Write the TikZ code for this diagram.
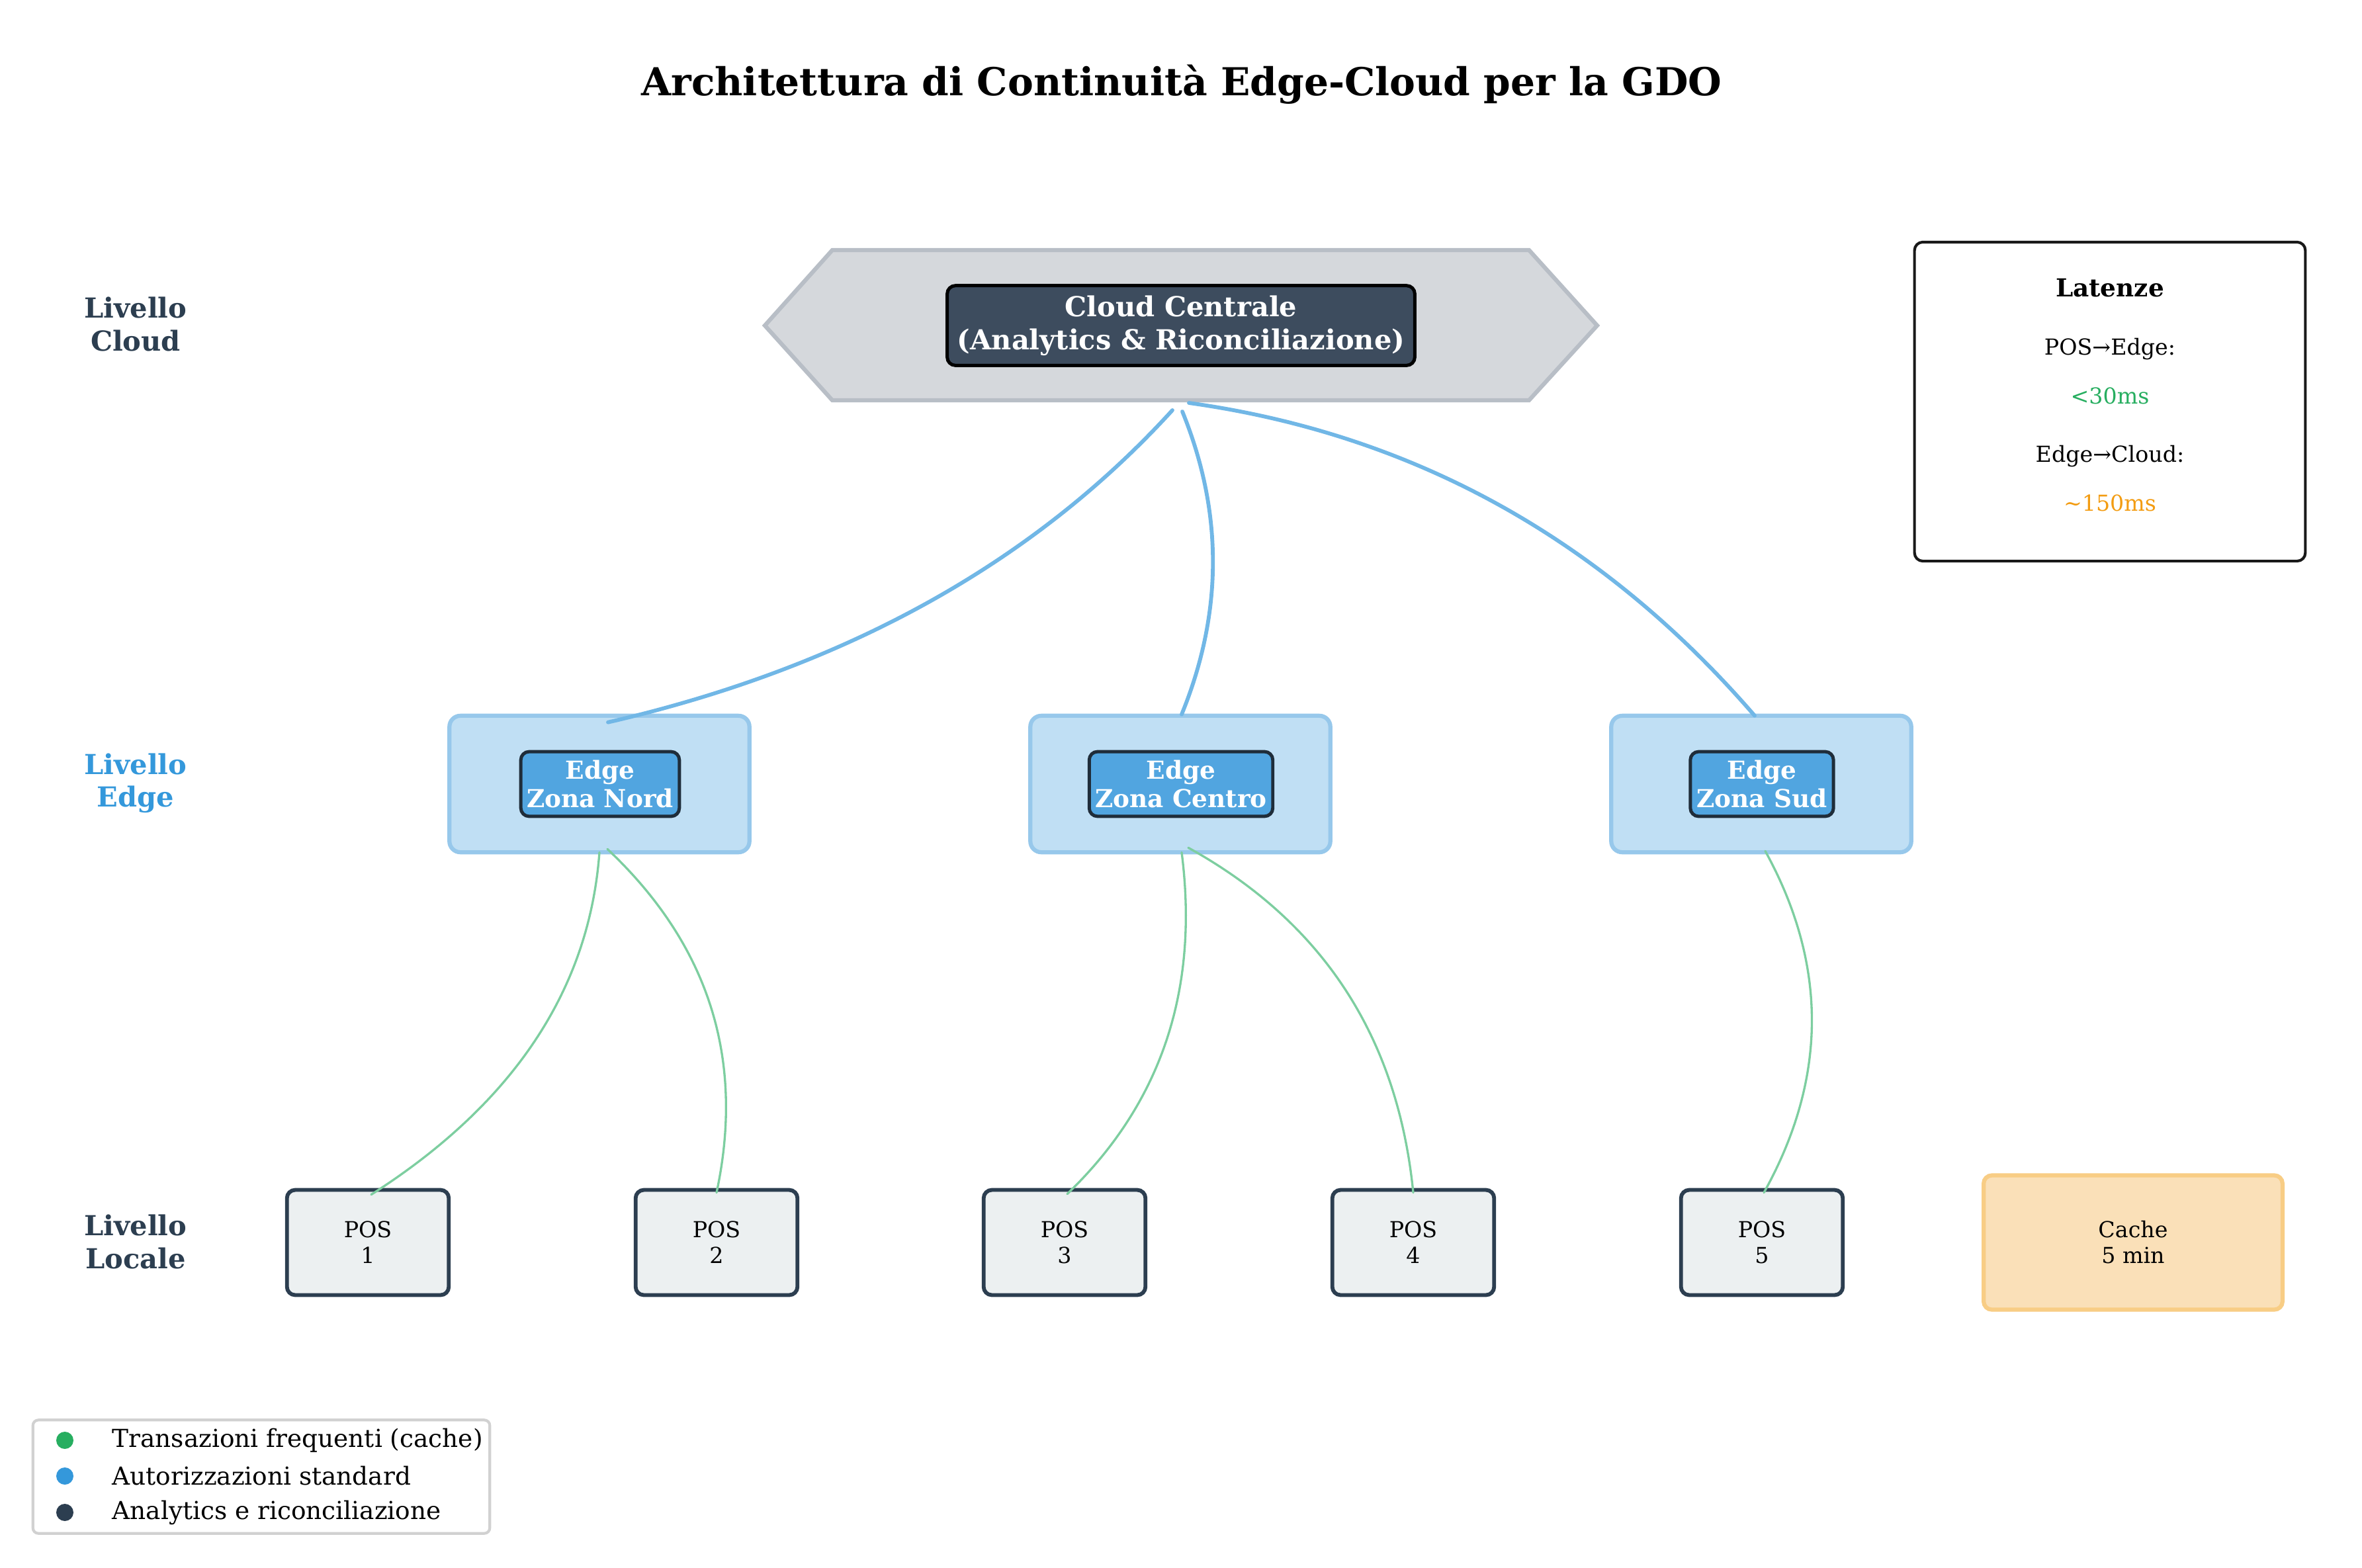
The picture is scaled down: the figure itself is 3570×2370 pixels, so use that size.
\documentclass[tikz,border=0pt]{standalone}
\usepackage{fontspec}
\setmainfont{DejaVu Serif}
\usetikzlibrary{calc}
\definecolor{hexfill}{HTML}{D5D8DC}
\definecolor{hexborder}{HTML}{B8BEC6}
\definecolor{cloudfill}{HTML}{3D4C5E}
\definecolor{edgefill}{HTML}{C0DFF4}
\definecolor{edgeborder}{HTML}{97C8EB}
\definecolor{innerfill}{HTML}{51A5E0}
\definecolor{innerborder}{HTML}{1F2D3A}
\definecolor{posfill}{HTML}{ECF0F1}
\definecolor{posborder}{HTML}{2C3E50}
\definecolor{cachefill}{HTML}{FAE0B8}
\definecolor{cacheborder}{HTML}{F8CD85}
\definecolor{darkslate}{HTML}{2C3E50}
\definecolor{brightblue}{HTML}{3498DB}
\definecolor{brightgreen}{HTML}{27AE60}
\definecolor{brightorange}{HTML}{F39C12}
\definecolor{bluecurve}{HTML}{71B7E6}
\definecolor{greencurve}{HTML}{7DCEA0}
\begin{document}
\begin{tikzpicture}[x=0.0033333in,y=-0.0033333in,
  cloudbox/.style={draw=black, line width=1.2pt, fill=cloudfill, rounded corners=3pt, text=white,
    font=\fontsize{10}{12}\selectfont\bfseries, align=center, minimum width=169.9pt, minimum height=29pt, inner sep=0pt},
  edgeouter/.style={draw=edgeborder, line width=1.5pt, fill=edgefill, rounded corners=4pt,
    minimum width=109pt, minimum height=49.6pt, inner sep=0pt},
  edgeinner/.style={draw=innerborder, line width=1.2pt, fill=innerfill, rounded corners=3pt, text=white,
    font=\fontsize{9}{10.4}\selectfont\bfseries, align=center, minimum height=23.5pt, inner sep=0pt},
  posbox/.style={draw=posborder, line width=1.4pt, fill=posfill, rounded corners=3pt,
    font=\fontsize{8}{9.4}\selectfont, align=center, minimum width=58.8pt, minimum height=38.2pt, inner sep=0pt},
  cachebox/.style={draw=cacheborder, line width=1.5pt, fill=cachefill, rounded corners=3pt,
    font=\fontsize{8}{9.4}\selectfont, align=center, minimum width=108.6pt, minimum height=48.8pt, inner sep=0pt},
  levellabel/.style={font=\fontsize{10}{11.8}\selectfont\bfseries, align=center, text=darkslate},
  lattext/.style={font=\fontsize{8}{9.6}\selectfont},
  legtext/.style={font=\fontsize{9}{10.8}\selectfont, anchor=west},
  bluecon/.style={draw=bluecurve, line width=1.4pt, line cap=round},
  greencon/.style={draw=greencurve, line width=0.8pt, line cap=round}
]
\useasboundingbox (0,0) rectangle (3570,2370);

% title
\node[font=\fontsize{14}{17}\selectfont\bfseries] (title) at (1786,128) {Architettura di Continuità Edge-Cloud per la GDO};

% level labels
\node[levellabel] (lvcloud) at (205,490) {Livello\\Cloud};
\node[levellabel, text=brightblue] (lvedge) at (205,1184) {Livello\\Edge};
\node[levellabel] (lvlocal) at (205,1877) {Livello\\Locale};

% cloud hexagon
\draw[fill=hexfill, draw=hexborder, line width=1.5pt, line join=miter]
  (1156,492) -- (1258,378) -- (2311,378) -- (2414,492) -- (2311,605) -- (1258,605) -- cycle;
\coordinate (hexS) at (1787,605);
\node[cloudbox] (cloud) at (1785,492) {Cloud Centrale\\(Analytics \& Riconciliazione)};

% latency box
\node[draw=black!90, line width=1pt, rounded corners=3pt, fill=white, minimum width=142pt, minimum height=115.9pt] (latbox) at (3189,607) {};
\node[font=\fontsize{9}{10.8}\selectfont\bfseries] (lattitle) at (3189,435) {Latenze};
\node[lattext] (lat1) at (3189,528) {POS→Edge:};
\node[lattext, text=brightgreen] (lat1v) at (3189,598) {<30ms};
\node[lattext] (lat2) at (3189,690) {Edge→Cloud:};
\node[lattext, text=brightorange] (lat2v) at (3189,760) {\textasciitilde150ms};

% edge nodes
\node[edgeouter] (e1) at (906,1185) {};
\node[edgeouter] (e2) at (1784,1185) {};
\node[edgeouter] (e3) at (2662,1185) {};
\node[edgeinner, minimum width=57.6pt] (e1in) at (907,1185) {Edge\\Zona Nord};
\node[edgeinner, minimum width=66.7pt] (e2in) at (1785,1185) {Edge\\Zona Centro};
\node[edgeinner, minimum width=52pt] (e3in) at (2663,1185) {Edge\\Zona Sud};

% POS nodes
\node[posbox] (p1) at (556,1878) {POS\\1};
\node[posbox] (p2) at (1083,1878) {POS\\2};
\node[posbox] (p3) at (1609,1878) {POS\\3};
\node[posbox] (p4) at (2136,1878) {POS\\4};
\node[posbox] (p5) at (2663,1878) {POS\\5};
\node[cachebox] (cache) at (3224,1878) {Cache\\5 min};

% blue connectors cloud -> edge
\coordinate (s1) at ($(hexS)+(-15,15)$);
\coordinate (s2) at ($(hexS)+(0,17)$);
\coordinate (s3) at ($(hexS)+(10,4)$);
\coordinate (t1) at ($(e1.north)+(13,13)$);
\coordinate (t2) at ($(e2.north)+(2,1)$);
\coordinate (t3) at ($(e3.north)+(-10,3)$);
\coordinate (q1) at (1455,968);
\coordinate (q2) at (1880,850);
\coordinate (q3) at (2305,680);
\draw[bluecon] (s1) .. controls ($(s1)!0.6667!(q1)$) and ($(t1)!0.6667!(q1)$) .. (t1);
\draw[bluecon] (s2) .. controls ($(s2)!0.6667!(q2)$) and ($(t2)!0.6667!(q2)$) .. (t2);
\draw[bluecon] (s3) .. controls ($(s3)!0.6667!(q3)$) and ($(t3)!0.6667!(q3)$) .. (t3);

% green connectors edge -> POS
\coordinate (ga0) at ($(e1.south)+(0,-3)$);
\coordinate (ga2) at ($(p1.north)+(5,10)$);
\coordinate (gac) at (883,1600);
\coordinate (gb0) at ($(e1.south)+(12,-8)$);
\coordinate (gb2) at ($(p2.north)+(0,7)$);
\coordinate (gbc) at (1148,1500);
\coordinate (gc0) at ($(e2.south)+(2,-3)$);
\coordinate (gc2) at ($(p3.north)+(4,9)$);
\coordinate (gcc) at (1826,1600);
\coordinate (gd0) at ($(e2.south)+(12,-10)$);
\coordinate (gd2) at ($(p4.north)+(0,7)$);
\coordinate (gdc) at (2101,1450);
\coordinate (ge0) at ($(e3.south)+(6,-5)$);
\coordinate (ge2) at ($(p5.north)+(3,7)$);
\coordinate (gec) at (2810,1544);
\draw[greencon] (ga0) .. controls ($(ga0)!0.6667!(gac)$) and ($(ga2)!0.6667!(gac)$) .. (ga2);
\draw[greencon] (gb0) .. controls ($(gb0)!0.6667!(gbc)$) and ($(gb2)!0.6667!(gbc)$) .. (gb2);
\draw[greencon] (gc0) .. controls ($(gc0)!0.6667!(gcc)$) and ($(gc2)!0.6667!(gcc)$) .. (gc2);
\draw[greencon] (gd0) .. controls ($(gd0)!0.6667!(gdc)$) and ($(gd2)!0.6667!(gdc)$) .. (gd2);
\draw[greencon] (ge0) .. controls ($(ge0)!0.6667!(gec)$) and ($(ge2)!0.6667!(gec)$) .. (ge2);

% legend
\node[draw=black!18, line width=1pt, rounded corners=2pt, fill=white, minimum width=166pt, minimum height=41.2pt] (legend) at (395,2232) {};
\fill[brightgreen] (98,2177) circle[radius=13];
\fill[brightblue] (98,2231) circle[radius=13];
\fill[darkslate] (98,2286) circle[radius=13];
\node[legtext] (leg1) at (155,2177) {Transazioni frequenti (cache)};
\node[legtext] (leg2) at (155,2231) {Autorizzazioni standard};
\node[legtext] (leg3) at (155,2286) {Analytics e riconciliazione};
\end{tikzpicture}
\end{document}
